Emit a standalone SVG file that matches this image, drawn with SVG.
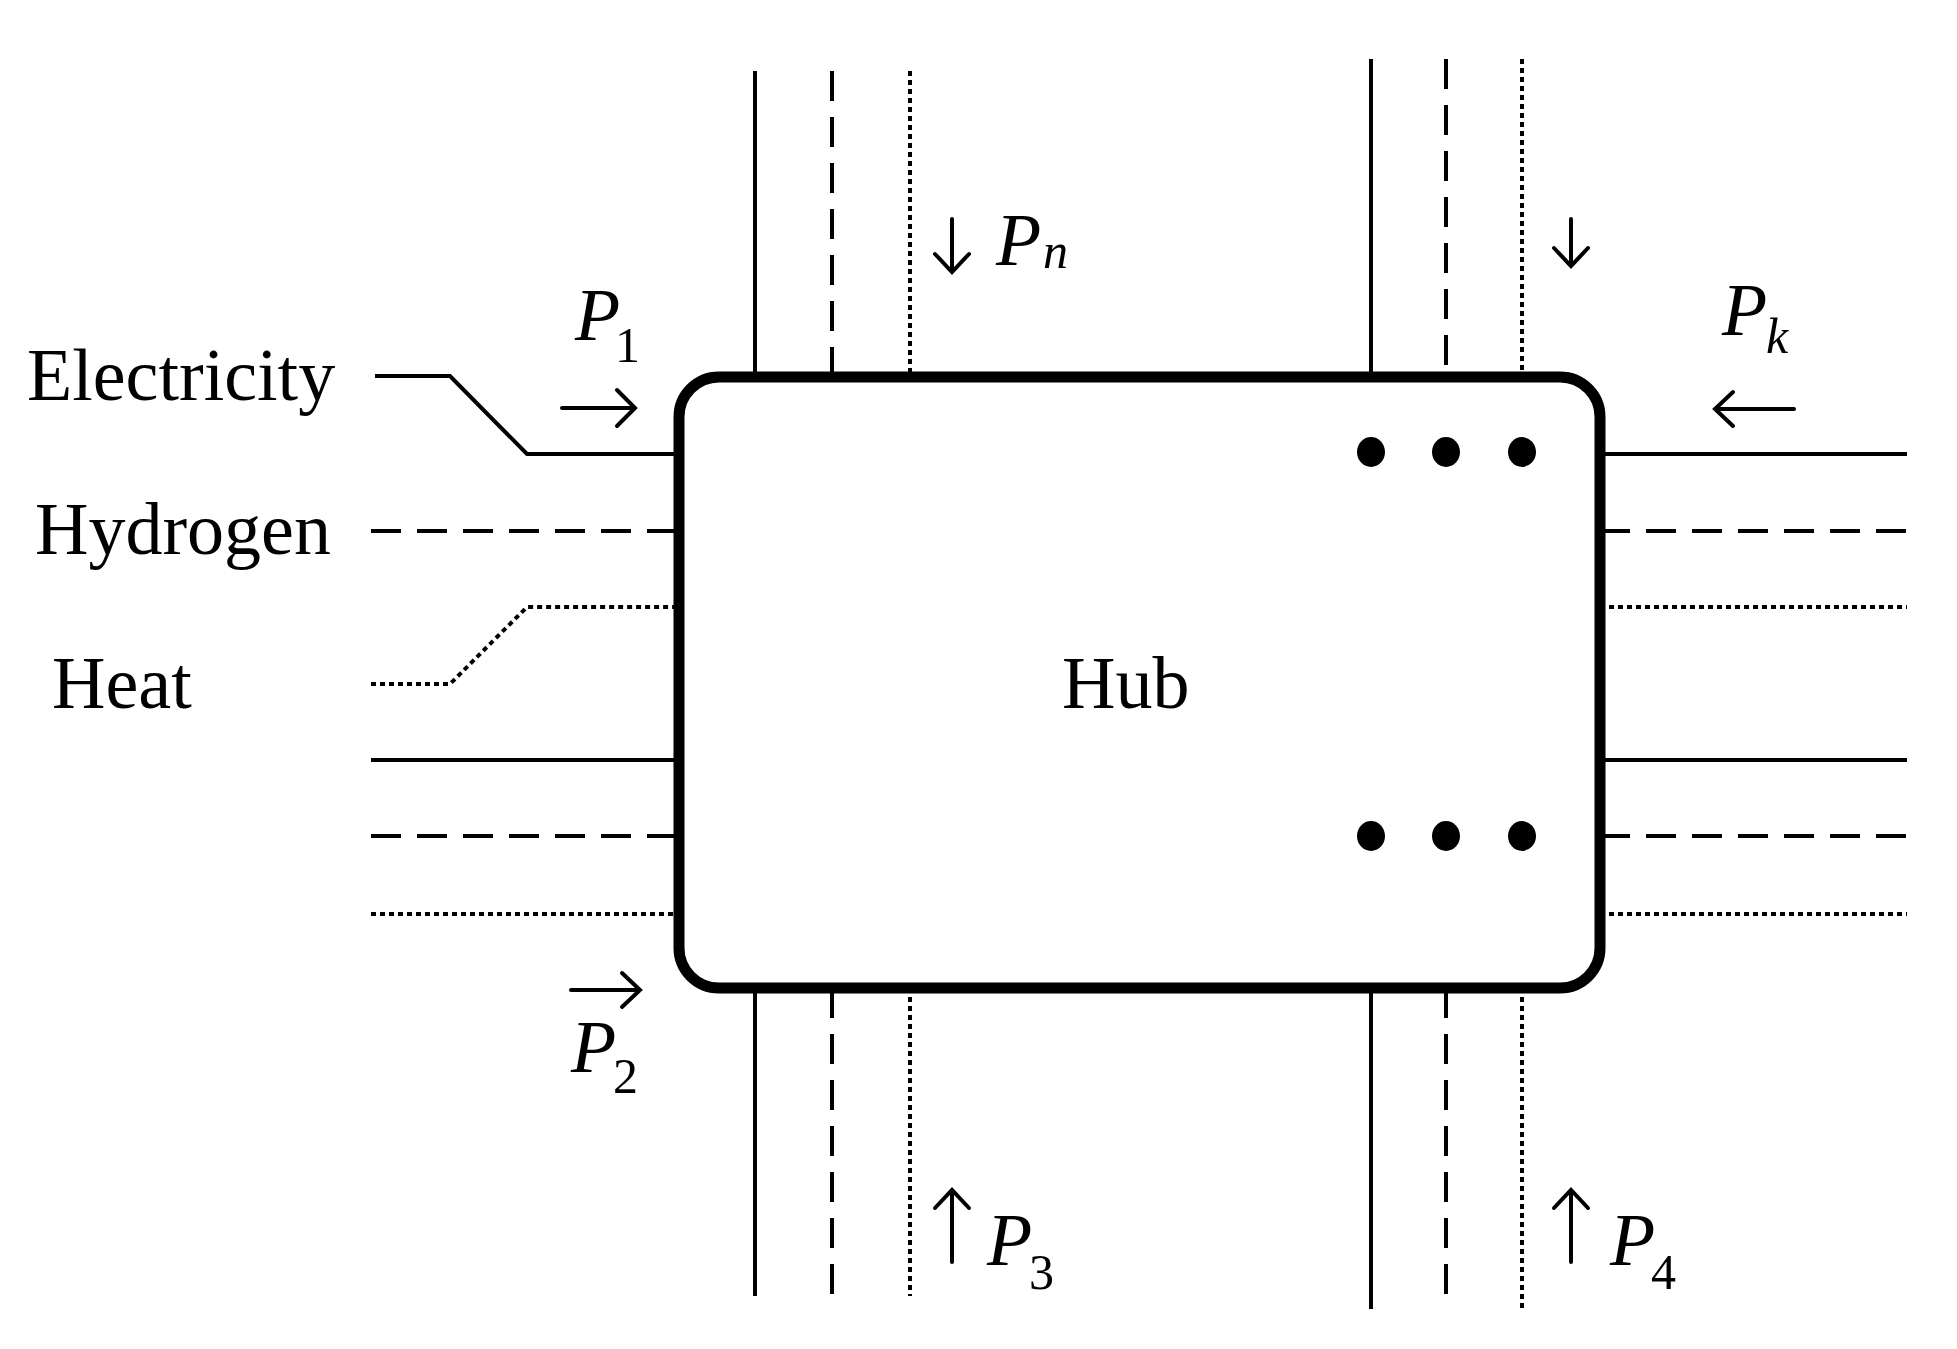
<svg xmlns="http://www.w3.org/2000/svg" width="1957" height="1349" viewBox="0 0 1957 1349">
<style>
.s{stroke:#000;stroke-width:4;fill:none}
.d{stroke:#000;stroke-width:4;fill:none;stroke-dasharray:30 16}
.o{stroke:#000;stroke-width:4;fill:none;stroke-dasharray:5 4}
.a{stroke:#000;stroke-width:4;fill:none;stroke-linecap:round;stroke-linejoin:miter}
.t{font-family:"Liberation Serif",serif;font-size:74px;fill:#000}
.p{font-family:"Liberation Serif",serif;font-size:74px;font-style:italic;fill:#000}
.sub{font-family:"Liberation Serif",serif;font-size:50px;fill:#000}
.subi{font-family:"Liberation Serif",serif;font-size:50px;font-style:italic;fill:#000}
</style>
<rect width="1957" height="1349" fill="#fff"/>
<g id="connectors">
<polyline class="s" points="375,376 450,376 527,454 679,454"/>
<line class="d" x1="371" y1="531" x2="679" y2="531"/>
<polyline class="o" points="371,684 450,684 527,607 679,607"/>
<line class="s" x1="371" y1="760" x2="679" y2="760"/>
<line class="d" x1="371" y1="836" x2="679" y2="836"/>
<line class="o" x1="371" y1="914" x2="679" y2="914"/>
<line class="s" x1="1600" y1="454" x2="1907" y2="454"/>
<line class="d" x1="1600" y1="531" x2="1907" y2="531"/>
<line class="o" x1="1600" y1="607" x2="1907" y2="607"/>
<line class="s" x1="1600" y1="760" x2="1907" y2="760"/>
<line class="d" x1="1600" y1="836" x2="1907" y2="836"/>
<line class="o" x1="1600" y1="914" x2="1907" y2="914"/>
<line class="s" x1="755" y1="71" x2="755" y2="377"/>
<line class="d" x1="832" y1="71" x2="832" y2="377"/>
<line class="o" x1="910" y1="71" x2="910" y2="377"/>
<line class="s" x1="1371" y1="59" x2="1371" y2="377"/>
<line class="d" x1="1446" y1="59" x2="1446" y2="377"/>
<line class="o" x1="1522" y1="59" x2="1522" y2="377"/>
<line class="s" x1="755" y1="988" x2="755" y2="1296"/>
<line class="d" x1="832" y1="988" x2="832" y2="1296"/>
<line class="o" x1="910" y1="988" x2="910" y2="1296"/>
<line class="s" x1="1371" y1="988" x2="1371" y2="1309"/>
<line class="d" x1="1446" y1="988" x2="1446" y2="1309"/>
<line class="o" x1="1522" y1="988" x2="1522" y2="1309"/>
</g>
<g id="hub">
<rect x="679" y="377" width="921" height="611" rx="40" ry="40" fill="#fff" stroke="#000" stroke-width="11"/>
<text class="t" x="1062" y="708">Hub</text>
<ellipse cx="1371" cy="452" rx="14" ry="15"/>
<ellipse cx="1446" cy="452" rx="14" ry="15"/>
<ellipse cx="1522" cy="452" rx="14" ry="15"/>
<ellipse cx="1371" cy="836" rx="14" ry="15"/>
<ellipse cx="1446" cy="836" rx="14" ry="15"/>
<ellipse cx="1522" cy="836" rx="14" ry="15"/>
</g>
<g id="labels">
<text class="t" x="27" y="400">Electricity</text>
<text class="t" x="35" y="554">Hydrogen</text>
<text class="t" x="52" y="708">Heat</text>
</g>
<g id="arrows">
<path class="a" d="M562,408 H635 M617,390 L635,408 L617,426"/>
<text class="p" x="575" y="340">P</text><text class="sub" x="615" y="362">1</text>
<path class="a" d="M571,990 H640 M622,973 L640,990 L622,1007"/>
<text class="p" x="571" y="1072">P</text><text class="sub" x="613" y="1093">2</text>
<path class="a" d="M952,219 V272 M935,254 L952,272 L969,254"/>
<text class="p" x="996" y="265">P</text><text class="subi" x="1043" y="268">n</text>
<path class="a" d="M1571,219 V266 M1554,248 L1571,266 L1588,248"/>
<text class="p" x="1722" y="335">P</text><text class="subi" x="1766" y="353">k</text>
<path class="a" d="M1794,409 H1715 M1733,392 L1715,409 L1733,426"/>
<path class="a" d="M952,1262 V1190 M935,1208 L952,1190 L969,1208"/>
<text class="p" x="987" y="1265">P</text><text class="sub" x="1029" y="1289">3</text>
<path class="a" d="M1571,1262 V1190 M1554,1208 L1571,1190 L1588,1208"/>
<text class="p" x="1610" y="1265">P</text><text class="sub" x="1651" y="1289">4</text>
</g>
</svg>
